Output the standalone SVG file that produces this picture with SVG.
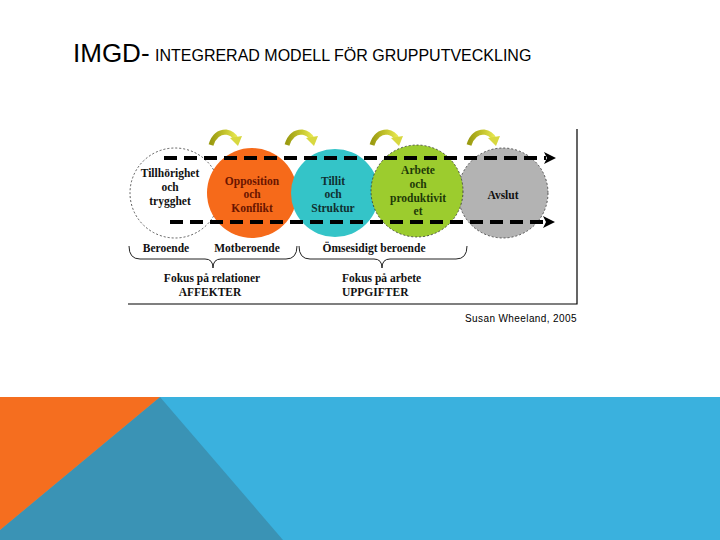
<svg xmlns="http://www.w3.org/2000/svg" width="720" height="540" viewBox="0 0 720 540">
<defs>
<style>
.t{font-family:"Liberation Serif","Times New Roman",serif;font-weight:bold;font-size:11.5px;text-anchor:middle}
.lab{font-family:"Liberation Serif","Times New Roman",serif;font-weight:bold;font-size:11.5px;fill:#111}
.dash{stroke:#000;stroke-width:4;stroke-dasharray:13 7;fill:none}
.ol{stroke:#333;stroke-width:0.8;stroke-dasharray:2 2}
.brace{fill:none;stroke:#222;stroke-width:1}
</style>
<linearGradient id="ag" x1="0" y1="0" x2="1" y2="0">
<stop offset="0" stop-color="#9a9a10"/>
<stop offset="0.6" stop-color="#c8c830"/>
<stop offset="1" stop-color="#e6e650"/>
</linearGradient>
<g id="carrow">
<path d="M3,15 Q7,2 18,2 Q25,3 28,9" fill="none" stroke="url(#ag)" stroke-width="5"/>
<polygon points="22,8 34,6 30,16" fill="#d8d840"/>
</g>
<marker id="ah" markerWidth="12" markerHeight="12" refX="2" refY="6" orient="auto" markerUnits="userSpaceOnUse">
<polygon points="0,0 12,6 0,12 3,6" fill="#000"/>
</marker>
</defs>
<rect width="720" height="540" fill="#fff"/>
<g id="title">
<text x="73" y="62" font-family="Liberation Sans,Arial,sans-serif" font-size="26" fill="#000">IMGD-</text>
<text x="155" y="61" font-family="Liberation Sans,Arial,sans-serif" font-size="16" fill="#000">INTEGRERAD MODELL FÖR GRUPPUTVECKLING</text>
</g>
<g id="frame" fill="none" stroke="#000" stroke-width="1.2">
<path d="M577,129 V304 H128"/>
</g>
<g id="n1"><circle cx="175" cy="193" r="45" fill="#fff" class="ol"/>
<text class="t" fill="#111"><tspan x="170" y="177">Tillhörighet</tspan><tspan x="170" y="191">och</tspan><tspan x="170" y="205">trygghet</tspan></text></g>
<g id="n2"><circle cx="252" cy="193" r="45" fill="#f66a1a"/>
<text class="t" fill="#6a1500"><tspan x="252" y="185">Opposition</tspan><tspan x="252" y="198">och</tspan><tspan x="252" y="212">Konflikt</tspan></text></g>
<g id="n3"><circle cx="335" cy="193" r="44" fill="#34c4c8"/>
<text class="t" fill="#103030"><tspan x="333" y="185">Tillit</tspan><tspan x="333" y="198">och</tspan><tspan x="333" y="212">Struktur</tspan></text></g>
<g id="n5"><circle cx="503" cy="193" r="45" fill="#b3b3b3" class="ol"/>
<text class="t" fill="#111" x="503" y="199">Avslut</text></g>
<g id="n4"><circle cx="417" cy="191" r="46" fill="#9ccc2e" class="ol"/>
<text class="t" fill="#1e3a08"><tspan x="418" y="174">Arbete</tspan><tspan x="418" y="188">och</tspan><tspan x="418" y="202">produktivit</tspan><tspan x="418" y="215">et</tspan></text></g>
<g id="connectors">
<line class="dash" x1="164" y1="158" x2="546" y2="158" marker-end="url(#ah)"/>
<line class="dash" x1="170" y1="222" x2="545" y2="222" marker-end="url(#ah)"/>
<use href="#carrow" x="208" y="130"/>
<use href="#carrow" x="284" y="130"/>
<use href="#carrow" x="369" y="130"/>
<use href="#carrow" x="466" y="130"/>
<path class="brace" d="M129,246 Q129,259 140,259 H205 Q213,259 213,268 Q213,259 221,259 H286 Q297,259 297,246"/>
<path class="brace" d="M299,246 Q299,259 310,259 H374 Q382,259 382,268 Q382,259 390,259 H456 Q467,259 467,246"/>
</g>
<g id="labels">
<text class="lab" x="166" y="252" text-anchor="middle">Beroende</text>
<text class="lab" x="247" y="252" text-anchor="middle">Motberoende</text>
<text class="lab" x="374" y="252" text-anchor="middle">Ömsesidigt beroende</text>
<text class="lab" x="212" y="282" text-anchor="middle">Fokus på relationer</text>
<text class="lab" x="210" y="296" text-anchor="middle">AFFEKTER</text>
<text class="lab" x="342" y="282">Fokus på arbete</text>
<text class="lab" x="342" y="296">UPPGIFTER</text>
</g>
<text x="465" y="322" font-family="Liberation Sans,Arial,sans-serif" font-size="10" letter-spacing="0.4" fill="#000">Susan Wheeland, 2005</text>
<g id="band">
<rect x="0" y="397" width="720" height="143" fill="#3ab1de"/>
<polygon points="160,397 283,540 0,540 0,530" fill="#3a93b5"/>
<polygon points="0,397 160,397 0,530" fill="#f56e1f"/>
</g>
</svg>
